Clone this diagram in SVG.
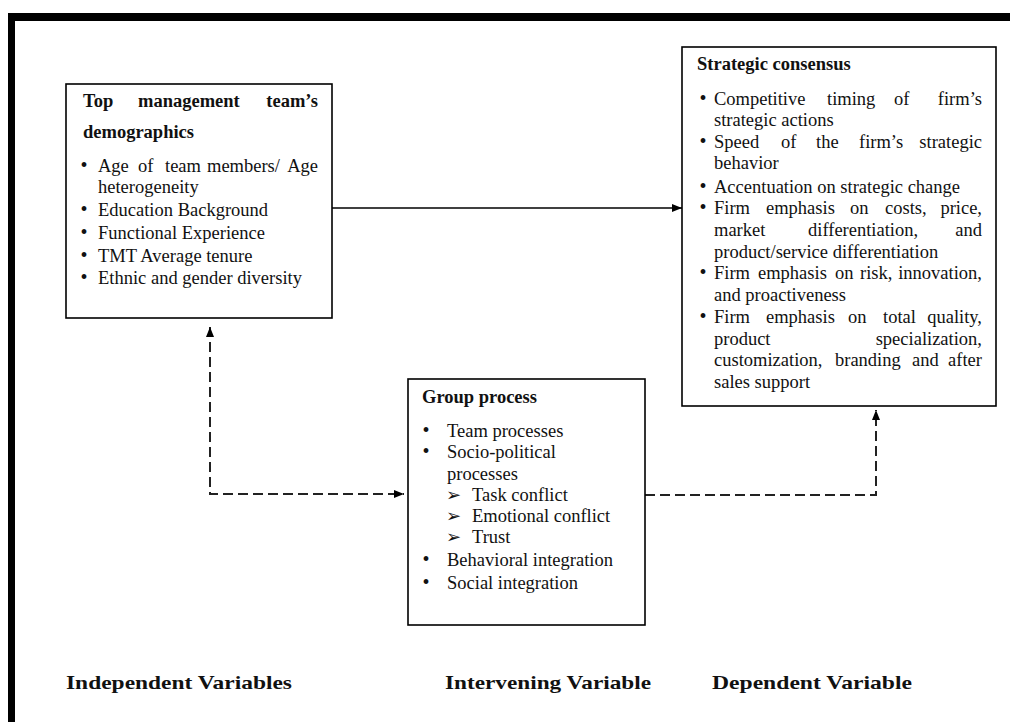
<svg xmlns="http://www.w3.org/2000/svg" width="1010" height="722" viewBox="0 0 1010 722">
<defs>
<style>
text{font-family:"Liberation Serif","Times New Roman",serif;font-size:18.5px;fill:#111}
.b{font-weight:bold}
.bul{text-anchor:middle;font-size:20px}
.arr{font-family:"DejaVu Sans",sans-serif;font-size:18px;font-weight:bold}
.end{text-anchor:end}
.box{fill:#fff;stroke:#000;stroke-width:1.6}
.lab{font-weight:bold;font-size:19px}
.solid{fill:none;stroke:#000;stroke-width:1.6}
.dash{fill:none;stroke:#222;stroke-width:2;stroke-dasharray:10 5}
</style>
<marker id="ah" viewBox="0 0 10 8" refX="10" refY="4" markerUnits="userSpaceOnUse" markerWidth="10" markerHeight="8" orient="auto-start-reverse">
<path d="M0,0 L10,4 L0,8 z" fill="#000"/>
</marker>
</defs>
<rect width="1010" height="722" fill="#fff"/>
<g id="frame">
<rect x="8" y="13" width="1002" height="8" fill="#000"/>
<rect x="8" y="13" width="7" height="709" fill="#000"/>
</g>
<g id="connectors">
<path class="solid" d="M332,208 H682" marker-end="url(#ah)"/>
<path class="dash" d="M210,327 V494 H404" marker-start="url(#ah)" marker-end="url(#ah)"/>
<path class="dash" d="M645,495 H876 V410" marker-end="url(#ah)"/>
</g>
<g id="tmt">
<rect class="box" x="66" y="84" width="266" height="234"/>
<text class="b" y="107"><tspan x="83">Top</tspan><tspan x="138">management</tspan></text>
<text class="b end" x="318" y="107">team’s</text>
<text class="b" x="83" y="138">demographics</text>
<text class="bul" x="84" y="172">•</text>
<text y="172"><tspan x="98">Age</tspan><tspan x="138">of</tspan><tspan x="165">team</tspan><tspan x="207">members/</tspan></text>
<text class="end" x="318" y="172">Age</text>
<text x="98" y="193">heterogeneity</text>
<text class="bul" x="84" y="216">•</text>
<text x="98" y="216">Education Background</text>
<text class="bul" x="84" y="239">•</text>
<text x="98" y="239">Functional Experience</text>
<text class="bul" x="84" y="262">•</text>
<text x="98" y="262">TMT Average tenure</text>
<text class="bul" x="84" y="284">•</text>
<text x="98" y="284">Ethnic and gender diversity</text>
</g>
<g id="strategic">
<rect class="box" x="682" y="47" width="314" height="359"/>
<text class="b" x="697" y="70">Strategic consensus</text>
<text class="bul" x="703" y="105">•</text>
<text y="105"><tspan x="714">Competitive</tspan><tspan x="827">timing</tspan><tspan x="894">of</tspan></text>
<text class="end" x="982" y="105">firm’s</text>
<text x="714" y="126">strategic actions</text>
<text class="bul" x="703" y="148">•</text>
<text y="148"><tspan x="714">Speed</tspan><tspan x="781">of</tspan><tspan x="816">the</tspan><tspan x="859">firm’s</tspan></text>
<text class="end" x="982" y="148">strategic</text>
<text x="714" y="169">behavior</text>
<text class="bul" x="703" y="193">•</text>
<text x="714" y="193">Accentuation on strategic change</text>
<text class="bul" x="703" y="214">•</text>
<text y="214"><tspan x="714">Firm</tspan><tspan x="766">emphasis</tspan><tspan x="850">on</tspan><tspan x="885">costs,</tspan></text>
<text class="end" x="982" y="214">price,</text>
<text y="236"><tspan x="714">market</tspan><tspan x="808">differentiation,</tspan></text>
<text class="end" x="982" y="236">and</text>
<text x="714" y="258">product/service differentiation</text>
<text class="bul" x="703" y="279">•</text>
<text y="279"><tspan x="714">Firm</tspan><tspan x="758">emphasis</tspan><tspan x="835">on</tspan><tspan x="860">risk,</tspan></text>
<text class="end" x="982" y="279">innovation,</text>
<text x="714" y="301">and proactiveness</text>
<text class="bul" x="703" y="323">•</text>
<text y="323"><tspan x="714">Firm</tspan><tspan x="766">emphasis</tspan><tspan x="848">on</tspan><tspan x="883">total</tspan></text>
<text class="end" x="982" y="323">quality,</text>
<text x="714" y="345">product</text>
<text class="end" x="982" y="345">specialization,</text>
<text y="366"><tspan x="714">customization,</tspan><tspan x="835">branding</tspan><tspan x="912">and</tspan></text>
<text class="end" x="982" y="366">after</text>
<text x="714" y="388">sales support</text>
</g>
<g id="group">
<rect class="box" x="408" y="379" width="237" height="246"/>
<text class="b" x="422" y="403">Group process</text>
<text class="bul" x="426" y="437">•</text>
<text x="447" y="437">Team processes</text>
<text class="bul" x="426" y="458">•</text>
<text x="447" y="458">Socio-political</text>
<text x="447" y="480">processes</text>
<text class="arr" x="446" y="501">➢</text>
<text x="472" y="501">Task conflict</text>
<text class="arr" x="446" y="522">➢</text>
<text x="472" y="522">Emotional conflict</text>
<text class="arr" x="446" y="543">➢</text>
<text x="472" y="543">Trust</text>
<text class="bul" x="426" y="566">•</text>
<text x="447" y="566">Behavioral integration</text>
<text class="bul" x="426" y="589">•</text>
<text x="447" y="589">Social integration</text>
</g>
<g id="labels">
<text class="lab" x="66" y="689" textLength="226" lengthAdjust="spacingAndGlyphs">Independent Variables</text>
<text class="lab" x="445" y="689" textLength="206" lengthAdjust="spacingAndGlyphs">Intervening Variable</text>
<text class="lab" x="712" y="689" textLength="200" lengthAdjust="spacingAndGlyphs">Dependent Variable</text>
</g>
</svg>
